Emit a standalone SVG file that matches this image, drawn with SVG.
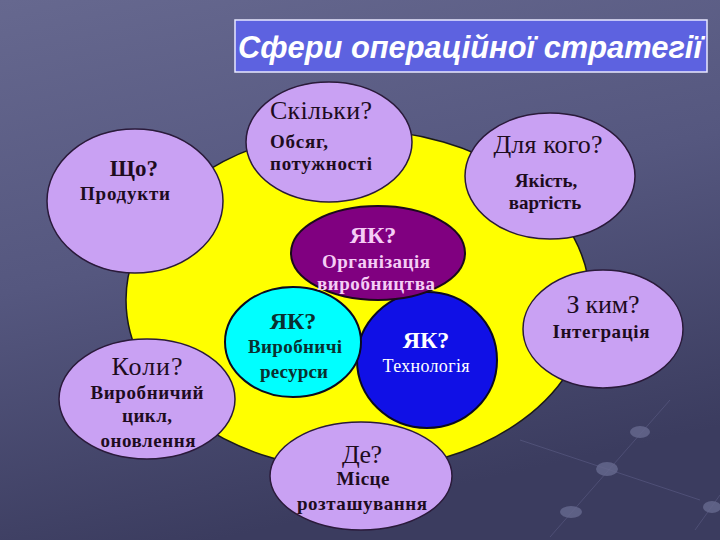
<svg xmlns="http://www.w3.org/2000/svg" width="720" height="540" viewBox="0 0 720 540">
<defs>
<linearGradient id="bg" x1="0" y1="0" x2="0.3" y2="1">
<stop offset="0" stop-color="#66688f"/>
<stop offset="0.5" stop-color="#55577f"/>
<stop offset="1" stop-color="#3b3c5f"/>
</linearGradient>
<style>
.lav{fill:#c9a1f3;stroke:#2a1a3a;stroke-width:1.5}
.h{font-family:"Liberation Serif","Times New Roman",serif;font-size:26px;fill:#1e0c1e;text-anchor:middle}
.s{font-family:"Liberation Serif","Times New Roman",serif;font-size:19px;font-weight:bold;fill:#1e0c1e;text-anchor:middle}
.yk{font-family:"Liberation Serif","Times New Roman",serif;font-size:24px;font-weight:bold;text-anchor:middle}
.deco{stroke:#7a7ca8;stroke-width:1;opacity:0.3;fill:none}
.dot{fill:#67698f;opacity:0.8}
</style>
</defs>
<rect width="720" height="540" fill="url(#bg)"/>
<g id="decor">
<line class="deco" x1="670" y1="400" x2="550" y2="537"/>
<line class="deco" x1="520" y1="440" x2="700" y2="500"/>
<line class="deco" x1="720" y1="495" x2="695" y2="530"/>
<ellipse class="dot" cx="640" cy="432" rx="10" ry="6"/>
<ellipse class="dot" cx="607" cy="469" rx="11" ry="7"/>
<ellipse class="dot" cx="571" cy="512" rx="11" ry="6"/>
<ellipse class="dot" cx="712" cy="507" rx="9" ry="6"/>
</g>
<g id="title">
<rect x="235" y="20" width="472" height="52" fill="#5d62e0" stroke="#e8e8ff" stroke-width="1.5"/>
<text x="470" y="58" font-family="'Liberation Sans',Arial,sans-serif" font-size="31" font-weight="bold" font-style="italic" fill="#ffffff" text-anchor="middle" textLength="464" lengthAdjust="spacingAndGlyphs">Сфери операційної стратегії</text>
</g>
<g id="core">
<ellipse cx="358" cy="300" rx="232" ry="170" fill="#ffff00" stroke="#1a1a1a" stroke-width="1.5"/>
</g>
<g id="node-shcho">
<ellipse class="lav" cx="135" cy="201" rx="88" ry="72"/>
<text class="h" x="134" y="176" style="font-size:23px;font-weight:bold">Що?</text>
<text class="s" x="125" y="200" textLength="90" lengthAdjust="spacing">Продукти</text>
</g>
<g id="node-skilky">
<ellipse class="lav" cx="329" cy="142" rx="83" ry="60"/>
<text class="h" x="321" y="119" textLength="102" lengthAdjust="spacing">Скільки?</text>
<text class="s" x="299" y="148" textLength="58" lengthAdjust="spacing">Обсяг,</text>
<text class="s" x="321" y="170" textLength="102" lengthAdjust="spacing">потужності</text>
</g>
<g id="node-dlia-koho">
<ellipse class="lav" cx="550" cy="176" rx="85" ry="63"/>
<text class="h" x="548" y="153" textLength="109" lengthAdjust="spacing">Для кого?</text>
<text class="s" x="546" y="187">Якість,</text>
<text class="s" x="545" y="209">вартість</text>
</g>
<g id="node-koly">
<ellipse class="lav" cx="147" cy="399" rx="88" ry="60"/>
<text class="h" x="147" y="375" textLength="71" lengthAdjust="spacing">Коли?</text>
<text class="s" x="147" y="399" textLength="113" lengthAdjust="spacing">Виробничий</text>
<text class="s" x="147" y="422" textLength="50" lengthAdjust="spacing">цикл,</text>
<text class="s" x="148" y="447" textLength="95" lengthAdjust="spacing">оновлення</text>
</g>
<g id="node-de">
<ellipse class="lav" cx="361" cy="476" rx="91" ry="54"/>
<text class="h" x="362" y="463" textLength="40" lengthAdjust="spacing">Де?</text>
<text class="s" x="363" y="485" textLength="53" lengthAdjust="spacing">Місце</text>
<text class="s" x="362" y="510" textLength="130" lengthAdjust="spacing">розташування</text>
</g>
<g id="node-z-kym">
<ellipse class="lav" cx="603" cy="329" rx="80" ry="59"/>
<text class="h" x="603" y="313" textLength="73" lengthAdjust="spacing">З ким?</text>
<text class="s" x="601" y="338" textLength="97" lengthAdjust="spacing">Інтеграція</text>
</g>
<g id="node-tekhnolohiia">
<ellipse cx="427" cy="360" rx="70" ry="68" fill="#1010e6" stroke="#0a0a20" stroke-width="2"/>
<text class="yk" x="426" y="348" fill="#ffffff">ЯК?</text>
<text class="h" x="426" y="372" style="fill:#ffffff;font-size:18px" textLength="87" lengthAdjust="spacing">Технологія</text>
</g>
<g id="node-resursy">
<ellipse cx="293" cy="342" rx="68" ry="55" fill="#00ffff" stroke="#0a0a20" stroke-width="2"/>
<text class="yk" x="293" y="329" fill="#0a3030">ЯК?</text>
<text class="s" x="295" y="353" style="fill:#0a3030" textLength="94" lengthAdjust="spacing">Виробничі</text>
<text class="s" x="294" y="378" style="fill:#0a3030" textLength="68" lengthAdjust="spacing">ресурси</text>
</g>
<g id="node-orhanizatsiia">
<ellipse cx="378" cy="253" rx="87" ry="47" fill="#800080" stroke="#1a0a1a" stroke-width="2"/>
<text class="yk" x="373" y="243" fill="#f5cdf5">ЯК?</text>
<text class="s" x="376" y="268" style="fill:#f5cdf5" textLength="108" lengthAdjust="spacing">Організація</text>
<text class="s" x="376" y="290" style="fill:#f5cdf5" textLength="118" lengthAdjust="spacing">виробництва</text>
</g>
</svg>
